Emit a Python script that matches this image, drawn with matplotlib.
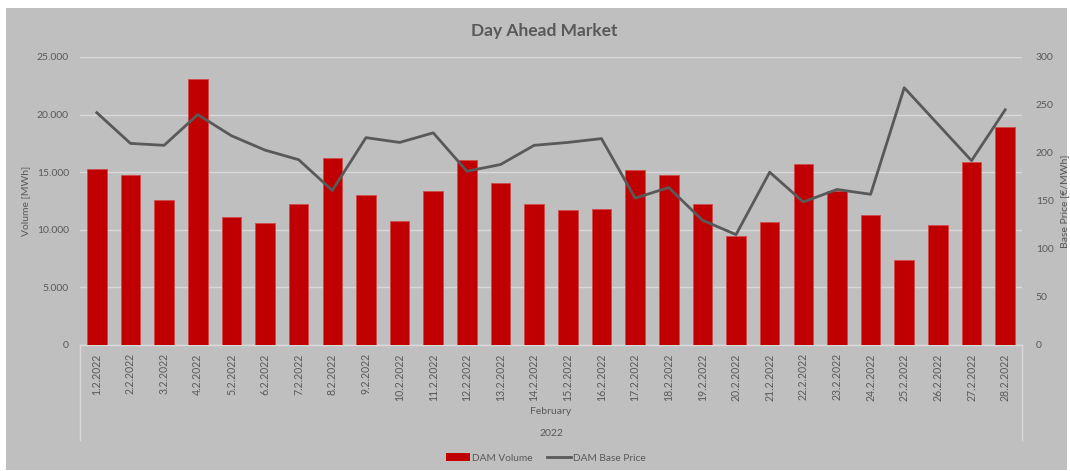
import matplotlib
matplotlib.use("Agg")
import matplotlib.pyplot as plt
from matplotlib.patches import Rectangle, Patch
from matplotlib.lines import Line2D

# ---- data ----
dates = ["1.2.2022", "2.2.2022", "3.2.2022", "4.2.2022", "5.2.2022", "6.2.2022", "7.2.2022",
         "8.2.2022", "9.2.2022", "10.2.2022", "11.2.2022", "12.2.2022", "13.2.2022", "14.2.2022",
         "15.2.2022", "16.2.2022", "17.2.2022", "18.2.2022", "19.2.2022", "20.2.2022", "21.2.2022",
         "22.2.2022", "23.2.2022", "24.2.2022", "25.2.2022", "26.2.2022", "27.2.2022", "28.2.2022"]
volume = [15300, 14750, 12550, 23050, 11150, 10600, 12250, 16200, 13050, 10780, 13400, 16100, 14050, 12200,
          11700, 11800, 15150, 14800, 12280, 9460, 10700, 15700, 13400, 11250, 7400, 10430, 15850, 18950]
price = [242, 210, 208, 240, 218, 203, 193, 161, 216, 211, 221, 181, 188, 208,
         211, 215, 153, 164, 130, 115, 180, 149, 162, 157, 268, 230, 192, 245]
left_ticks = [0, 5000, 10000, 15000, 20000, 25000]
left_tick_labels = ["0", "5.000", "10.000", "15.000", "20.000", "25.000"]
right_ticks = [0, 50, 100, 150, 200, 250, 300]
month_label = "February"
year_label = "2022"

W, H = 1070, 471
FONT = "Lato"
TXT = "#595959"
BG = "#BFBFBF"
GRID = "#D9D9D9"
RED = "#C00000"
LINE = "#595959"

plt.rcParams["font.family"] = [FONT, "DejaVu Sans"]

fig = plt.figure(figsize=(W / 100, H / 100), dpi=100)
fig.patch.set_facecolor("white")

def fx(px):
    return px / W

def fy(py):
    return 1 - py / H

# chart area background
bg = Rectangle((fx(6), fy(470)), fx(1067) - fx(6), fy(8) - fy(470),
               transform=fig.transFigure, facecolor=BG, edgecolor="none", zorder=-10)
fig.add_artist(bg)

x0, x1, ytop, ybot = 80, 1022, 57, 345
ax = fig.add_axes([fx(x0), fy(ybot), fx(x1) - fx(x0), fy(ytop) - fy(ybot)])
ax.set_facecolor("none")
ax2 = ax.twinx()
ax2.set_facecolor("none")

xs = list(range(len(dates)))
ax.bar(xs, volume, width=0.58, color=RED, edgecolor="#D24B4B", linewidth=0.6, zorder=3)
ax.set_ylim(0, 25000)
ax.set_xlim(-0.5, len(dates) - 0.5)
ax.set_yticks(left_ticks)
ax.set_yticklabels(left_tick_labels)
ax.grid(axis="y", color=GRID, linewidth=1.0, zorder=0)
ax.set_axisbelow(True)
ax.set_xticks(xs)
ax.set_xticklabels(dates, rotation=90, va="top", ha="center")
ax.tick_params(axis="x", length=0, pad=6, labelsize=7.6, labelcolor=TXT)
ax.tick_params(axis="y", length=0, pad=8, labelsize=7.5, labelcolor=TXT)
for s in ["top", "left", "right"]:
    ax.spines[s].set_visible(False)
ax.spines["bottom"].set_color(GRID)
ax.spines["bottom"].set_linewidth(1.0)
ax.set_ylabel("Volume [MWh]", color=TXT, fontsize=7.5)
ax.yaxis.set_label_coords((30 - x0) / (x1 - x0), 0.5)

ax2.plot(xs, price, color=LINE, linewidth=2.0, zorder=4, solid_joinstyle="round")
ax2.set_ylim(0, 300)
ax2.set_yticks(right_ticks)
ax2.tick_params(axis="y", length=0, pad=10, labelsize=7.5, labelcolor=TXT)
for s in ["top", "left", "right", "bottom"]:
    ax2.spines[s].set_visible(False)
ax2.set_ylabel("Base Price [€/MWh]", color=TXT, fontsize=7.5)
ax2.yaxis.set_label_coords((1060 - x0) / (x1 - x0), 0.5)

# multi-level category axis separators
for px in (x0, x1):
    fig.add_artist(Line2D([fx(px), fx(px)], [fy(ybot), fy(440)], transform=fig.transFigure,
                          color=GRID, linewidth=1.0))

fig.text(fx((x0 + x1) / 2), fy(412), month_label, ha="center", va="center", fontsize=7.5, color=TXT)
fig.text(fx((x0 + x1) / 2), fy(433), year_label, ha="center", va="center", fontsize=7.5, color=TXT)

fig.text(fx(544), fy(31), "Day Ahead Market", ha="center", va="center", fontsize=12.5,
         fontweight="bold", color=TXT)

handles = [Patch(facecolor=RED, edgecolor="none", label="DAM Volume"),
           Line2D([0], [0], color=LINE, linewidth=2.0, label="DAM Base Price")]
fig.legend(handles=handles, loc="center", bbox_to_anchor=(fx(546), fy(458)), ncol=2,
           frameon=False, fontsize=7.3, labelcolor=TXT, handlelength=2.4, handletextpad=0.2,
           columnspacing=1.4)

fig.savefig("out.png", dpi=100, facecolor=fig.get_facecolor())
